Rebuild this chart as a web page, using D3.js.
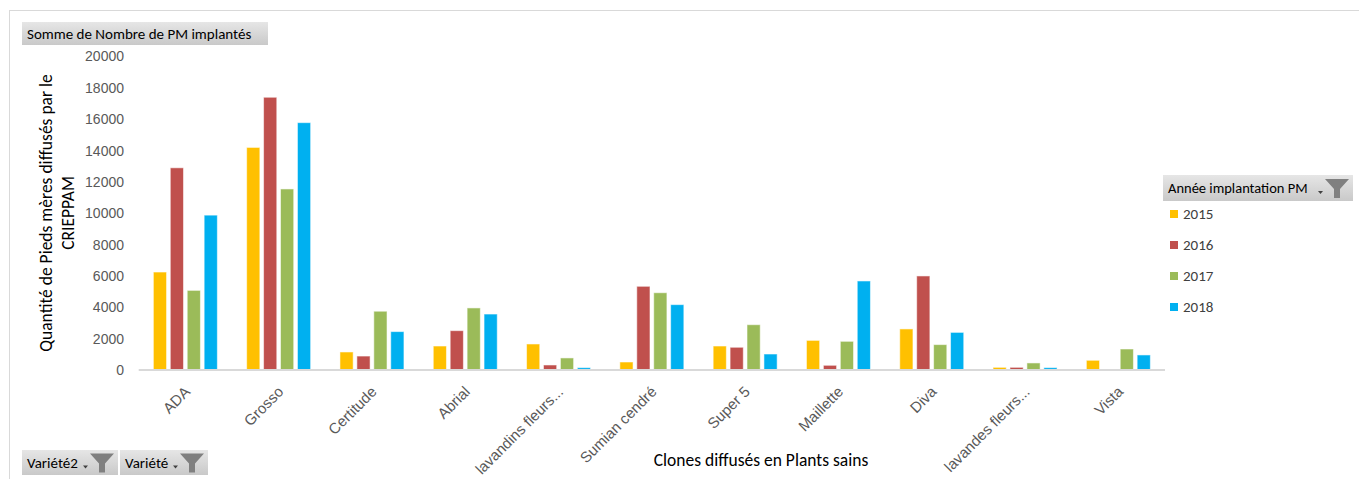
<!DOCTYPE html>
<html>
<head>
<meta charset="utf-8">
<script src="https://cdn.jsdelivr.net/npm/d3@7"></script>
<style>
  html, body { margin: 0; padding: 0; background: #fff; }
  svg { display: block; font-family: Carlito, Lato, "Open Sans", sans-serif; }
</style>
</head>
<body>
<svg id="chart" width="1359" height="479"></svg>
<script>
// Clones and yearly counts of mother plants (pieds mères) distributed
const categories = ["ADA", "Grosso", "Certitude", "Abrial", "lavandins fleurs...", "Sumian cendré",
  "Super 5", "Maillette", "Diva", "lavandes fleurs...", "Vista"];
const years = ["2015", "2016", "2017", "2018"];
const values2015 = [6250, 14200, 1150, 1530, 1660, 510, 1530, 1890, 2620, 170, 620];
const values2016 = [12900, 17400, 890, 2510, 320, 5340, 1450, 300, 6000, 170, 0];
const values2017 = [5080, 11550, 3750, 3960, 770, 4930, 2890, 1830, 1620, 450, 1340];
const values2018 = [9880, 15780, 2450, 3570, 150, 4170, 1020, 5680, 2400, 150, 960];
const yTicks = [0, 2000, 4000, 6000, 8000, 10000, 12000, 14000, 16000, 18000, 20000];
const colors = ["#FFC000", "#C0504D", "#9BBB59", "#00B0F0"];

const series = [values2015, values2016, values2017, values2018];
const svg = d3.select("#chart");

// outer chart frame
svg.append("rect").attr("x", 9.5).attr("y", 10.5).attr("width", 1400).attr("height", 500)
  .attr("fill", "none").attr("stroke", "#d9d9d9");

const plot = { left: 138.7, right: 1165, top: 56.5, bottom: 370 };

const x = d3.scaleBand().domain(categories).range([plot.left, plot.right]).paddingInner(0.314).paddingOuter(0.157);
const xs = d3.scaleBand().domain(years).range([0, x.bandwidth()]).paddingInner(0.22).paddingOuter(0);
const y = d3.scaleLinear().domain([0, 20000]).range([plot.bottom, plot.top]);

// gradient for the field buttons
const defs = svg.append("defs");
const grad = defs.append("linearGradient").attr("id", "btn").attr("x1", 0).attr("y1", 0).attr("x2", 0).attr("y2", 1);
grad.append("stop").attr("offset", "0%").attr("stop-color", "#e6e6e6");
grad.append("stop").attr("offset", "100%").attr("stop-color", "#c9c9c9");

// y axis labels (no line, no ticks)
const yAxis = d3.axisLeft(y).tickValues(yTicks).tickSize(0).tickPadding(0).tickFormat(d3.format("d"));
const gy = svg.append("g").attr("transform", `translate(124,0)`).call(yAxis);
gy.select(".domain").remove();
gy.selectAll("text").attr("fill", "#595959").style("font-size", "14px").style("font-family", "inherit");

// bars
const groups = svg.append("g").selectAll("g").data(series).join("g").attr("fill", (d, i) => colors[i]);
groups.each(function (vals, si) {
  d3.select(this).selectAll("rect").data(vals).join("rect")
    .attr("x", (d, i) => x(categories[i]) + xs(years[si]))
    .attr("width", xs.bandwidth())
    .attr("y", d => y(d))
    .attr("height", d => y(0) - y(d))
    .attr("stroke", "#ffffff").attr("stroke-opacity", 0.55).attr("stroke-width", 1);
});

// category axis
const xAxis = d3.axisBottom(x).tickSize(0).tickPadding(0);
const gx = svg.append("g").attr("transform", `translate(0,${plot.bottom})`).call(xAxis);
gx.select(".domain").attr("stroke", "#d9d9d9").attr("stroke-width", 2)
  .attr("d", `M${plot.left},0H${plot.right}`);
gx.selectAll(".tick text")
  .attr("fill", "#595959").style("font-size", "15px").style("font-family", "inherit")
  .attr("text-anchor", "end")
  .attr("dy", "0.35em")
  .attr("transform", "translate(2,19) rotate(-45)")
  .attr("y", 0);

// axis titles
svg.append("text").attr("transform", "translate(52,213) rotate(-90)").attr("text-anchor", "middle")
  .style("font-size", "17.5px").attr("fill", "#000")
  .selectAll("tspan").data(["Quantité de Pieds mères diffusés par le", "CRIEPPAM"]).join("tspan")
  .attr("x", 0).attr("dy", (d, i) => i ? "1.25em" : 0).text(d => d);

svg.append("text").attr("x", 761).attr("y", 466).attr("text-anchor", "middle")
  .style("font-size", "17.5px").attr("fill", "#000").text("Clones diffusés en Plants sains");

// funnel glyph used on the field buttons
function funnel(g, cx, cy) {
  g.append("path").attr("fill", "#808080")
    .attr("d", `M${cx - 12},${cy - 9}H${cx + 12}L${cx + 3},${cy + 1}V${cy + 10}H${cx - 3}V${cy + 1}Z`);
  g.append("path").attr("fill", "#404040")
    .attr("d", `M${cx - 19},${cy + 3}h5l-2.5,3z`);
}

function button(xp, yp, w, h, label, withFilter, size) {
  const g = svg.append("g");
  g.append("rect").attr("x", xp).attr("y", yp).attr("width", w).attr("height", h).attr("fill", "url(#btn)");
  g.append("text").attr("x", xp + 5).attr("y", yp + h / 2).attr("dy", "0.35em")
    .style("font-size", size + "px").attr("fill", "#000").text(label);
  if (withFilter) funnel(g, xp + w - 16, yp + h / 2);
}

button(22, 22, 246, 23, "Somme de Nombre de PM implantés", false, 15);
button(1163, 175, 190, 26, "Année implantation PM", true, 14.5);
button(22, 450, 96, 25, "Variété2", true, 15);
button(120, 450, 88, 25, "Variété", true, 15);

// legend
const legend = svg.append("g").selectAll("g").data(years).join("g")
  .attr("transform", (d, i) => `translate(1170,${214 + i * 31})`);
legend.append("rect").attr("x", 0).attr("y", -4).attr("width", 8).attr("height", 8).attr("fill", (d, i) => colors[i]);
legend.append("text").attr("x", 13).attr("dy", "0.35em").style("font-size", "15px").attr("fill", "#404040").text(d => d);
</script>
</body>
</html>
